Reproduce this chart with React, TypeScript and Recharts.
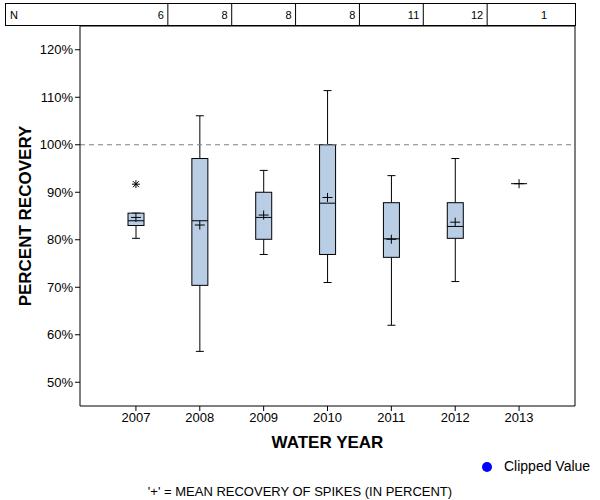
import { Bar, ComposedChart, Legend, ReferenceLine, Scatter, XAxis, YAxis } from 'recharts'

const years = ['2007', '2008', '2009', '2010', '2011', '2012', '2013']
const counts = [6, 8, 8, 8, 11, 12, 1]
const whiskerLow = [80.3, 56.5, 76.9, 71.0, 62.0, 71.2, null]
const q1 = [83.0, 70.4, 80.1, 76.9, 76.3, 80.3, null]
const medians = [84.0, 84.0, 84.7, 87.7, 80.2, 82.8, null]
const q3 = [85.6, 97.1, 90.0, 100.0, 87.8, 87.8, null]
const whiskerHigh = [85.6, 106.1, 94.6, 111.4, 93.5, 97.1, null]
const means = [84.7, 83.1, 85.2, 88.9, 80.1, 83.7, 91.8]
const singles = [null, null, null, null, null, null, 91.8]
const outliers = [91.7, null, null, null, null, null, null]
const yTicks = [50, 60, 70, 80, 90, 100, 110, 120]

const data = years.map((year, i) => ({
  year,
  n: counts[i],
  lo: whiskerLow[i],
  q1: q1[i],
  med: medians[i],
  q3: q3[i],
  hi: whiskerHigh[i],
  mean: means[i],
  single: singles[i],
  out: outliers[i],
  clipped: null,
}))

const FONT = '"Liberation Sans", Arial, sans-serif'
const BOX_FILL = '#B9CDE5'

function BoxShape(props: any) {
  const { x, y, width, height, payload } = props
  if (payload.lo == null || payload.hi == null) return <g />
  const top = Math.min(y, y + height)
  const h = Math.abs(height)
  // map a value into the bar's pixel span (bar spans lo..hi on the y axis)
  const py = (v: number) => top + (h * (payload.hi - v)) / (payload.hi - payload.lo)
  const cx = x + width / 2
  const cap = 4
  return (
    <g stroke="#000" strokeWidth={1} fill="none">
      <line x1={cx} x2={cx} y1={py(payload.hi)} y2={py(payload.q3)} />
      <line x1={cx} x2={cx} y1={py(payload.q1)} y2={py(payload.lo)} />
      <line x1={cx - cap} x2={cx + cap} y1={py(payload.hi)} y2={py(payload.hi)} />
      <line x1={cx - cap} x2={cx + cap} y1={py(payload.lo)} y2={py(payload.lo)} />
      <rect x={x} y={py(payload.q3)} width={width} height={py(payload.q1) - py(payload.q3)} fill={BOX_FILL} />
      <line x1={x} x2={x + width} y1={py(payload.med)} y2={py(payload.med)} />
    </g>
  )
}

function PlusShape(props: any) {
  const { cx, cy } = props
  if (cx == null || cy == null || isNaN(cy)) return <g />
  return (
    <g stroke="#000" strokeWidth={1}>
      <line x1={cx - 5} x2={cx + 5} y1={cy} y2={cy} />
      <line x1={cx} x2={cx} y1={cy - 4.5} y2={cy + 4.5} />
    </g>
  )
}

function SingleShape(props: any) {
  const { cx, cy } = props
  if (cx == null || cy == null || isNaN(cy)) return <g />
  return <line x1={cx - 8} x2={cx + 8} y1={cy} y2={cy} stroke="#000" strokeWidth={1} />
}

function StarShape(props: any) {
  const { cx, cy } = props
  if (cx == null || cy == null || isNaN(cy)) return <g />
  const r = 4
  const d = 3
  return (
    <g stroke="#000" strokeWidth={1}>
      <line x1={cx - r} x2={cx + r} y1={cy} y2={cy} />
      <line x1={cx} x2={cx} y1={cy - r} y2={cy + r} />
      <line x1={cx - d} x2={cx + d} y1={cy - d} y2={cy + d} />
      <line x1={cx - d} x2={cx + d} y1={cy + d} y2={cy - d} />
    </g>
  )
}

function NTick(props: any) {
  const { x, payload, index } = props
  const half = payload?.offset || 32
  return (
    <g fontFamily={FONT} fontSize={11}>
      {index === 0 && (
        <g>
          <rect x={5.5} y={3.5} width={570} height={22} fill="none" stroke="#000" />
          <text x={10} y={19} fill="#000">N</text>
        </g>
      )}
      <text x={x + half - 4} y={19} textAnchor="end" fill="#000">
        {counts[index]}
      </text>
      {index < years.length - 1 && <line x1={x + half} x2={x + half} y1={3} y2={26} stroke="#000" />}
    </g>
  )
}

export default function App() {
  return (
    <div style={{ position: 'absolute', left: 0, top: 0, width: 600, height: 500, background: '#fff', fontFamily: FONT }}>
      <ComposedChart width={600} height={500} data={data} margin={{ top: 2, right: 24, bottom: 44, left: 0 }}>
        <XAxis
          xAxisId="top"
          orientation="top"
          dataKey="year"
          height={24}
          padding={{ left: 24, right: 24 }}
          tickLine={false}
          axisLine={{ stroke: '#000' }}
          tick={<NTick />}
        />
        <XAxis
          dataKey="year"
          height={50}
          padding={{ left: 24, right: 24 }}
          tickSize={5}
          tickLine={{ stroke: '#000' }}
          axisLine={{ stroke: '#000' }}
          tick={{ fill: '#000', fontSize: 13, fontFamily: FONT }}
          label={({ viewBox }: any) => (
            <text x={viewBox.x + viewBox.width / 2} y={viewBox.y + 42} textAnchor="middle" fontWeight="bold" fontSize={17} fontFamily={FONT} fill="#000">
              WATER YEAR
            </text>
          )}
        />
        <YAxis
          domain={[45, 125]}
          ticks={yTicks}
          width={80}
          tickSize={5}
          tickLine={{ stroke: '#000' }}
          axisLine={{ stroke: '#000' }}
          tickFormatter={(v) => `${v}%`}
          tick={{ fill: '#000', fontSize: 13, fontFamily: FONT }}
          label={({ viewBox }: any) => (
            <text
              x={25}
              y={viewBox.y + viewBox.height / 2}
              transform={`rotate(-90, 25, ${viewBox.y + viewBox.height / 2})`}
              textAnchor="middle"
              dominantBaseline="central"
              fontWeight="bold"
              fontSize={17}
              fontFamily={FONT}
              fill="#000"
            >
              PERCENT RECOVERY
            </text>
          )}
        />
        <YAxis yAxisId="right" orientation="right" width={1} tick={false} tickLine={false} axisLine={{ stroke: '#000' }} />
        <ReferenceLine y={100} stroke="#808080" strokeDasharray="5 4" />
        <Bar dataKey={(d: any) => (d.lo == null ? null : [d.lo, d.hi])} barSize={16} shape={<BoxShape />} isAnimationActive={false} legendType="none" />
        <Scatter dataKey="single" shape={<SingleShape />} isAnimationActive={false} legendType="none" />
        <Scatter dataKey="mean" shape={<PlusShape />} isAnimationActive={false} legendType="none" />
        <Scatter dataKey="out" shape={<StarShape />} isAnimationActive={false} legendType="none" />
        <Scatter dataKey="clipped" name="Clipped Value" fill="#0000FF" legendType="circle" isAnimationActive={false} />
        <Legend
          layout="horizontal"
          verticalAlign="middle"
          align="center"
          iconSize={10}
          wrapperStyle={{ top: 458, left: 482, width: 118, whiteSpace: 'nowrap', textAlign: 'left', fontSize: 14, fontFamily: FONT }}
          formatter={(v: any) => <span style={{ color: '#000', marginLeft: 8, whiteSpace: 'nowrap' }}>{v}</span>}
        />
      </ComposedChart>
      <div style={{ position: 'absolute', top: 484, left: 0, width: 600, textAlign: 'center', fontSize: 13, color: '#000' }}>
        '+' = MEAN RECOVERY OF SPIKES (IN PERCENT)
      </div>
    </div>
  )
}
